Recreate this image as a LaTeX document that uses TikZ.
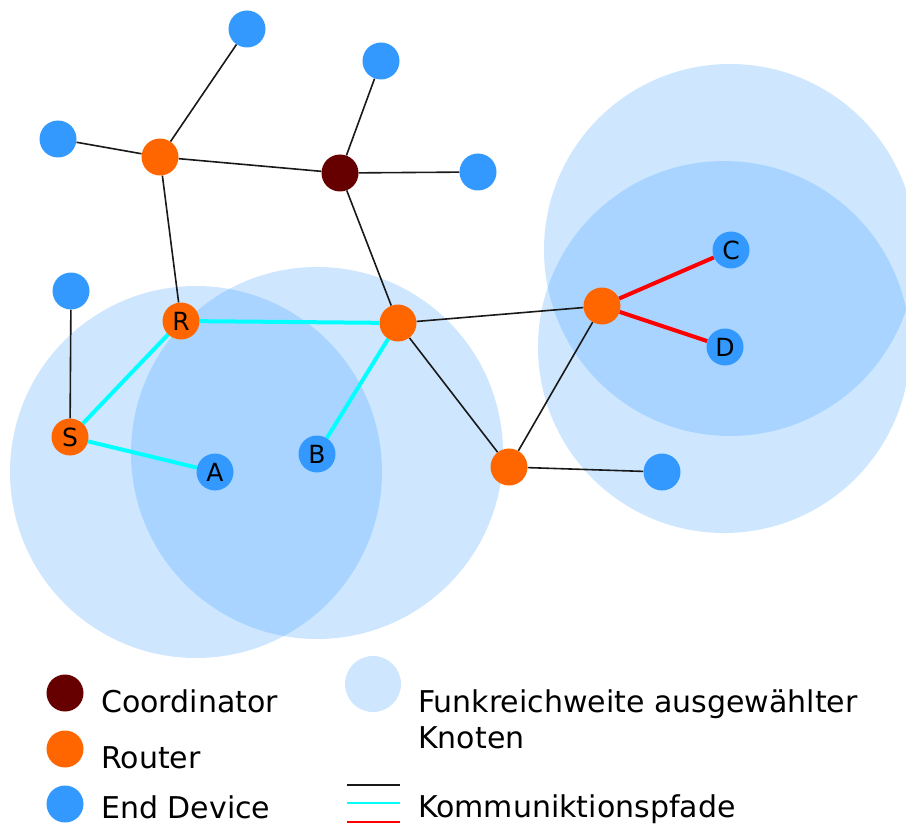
\documentclass[tikz,border=0pt]{standalone}
\usepackage{fontspec}
\setmainfont{DejaVu Sans}
\pgfdeclarelayer{circ}
\pgfdeclarelayer{edges}
\pgfsetlayers{circ,edges,main}
\definecolor{edcol}{HTML}{3399FF}
\definecolor{rtcol}{HTML}{FF6600}
\definecolor{cocol}{HTML}{660000}
\definecolor{cyancol}{RGB}{0,255,255}
\definecolor{redcol}{RGB}{255,0,0}
\definecolor{rngcol}{RGB}{51,153,255}
\begin{document}
\begin{tikzpicture}[x=1pt,y=-1pt,
  dev/.style={circle,minimum size=37pt,inner sep=0pt,font=\fontsize{25}{25}\selectfont},
  enddev/.style={dev,fill=edcol},
  router/.style={dev,fill=rtcol},
  coordnode/.style={dev,fill=cocol},
  link/.style={line width=1.6pt,black!90},
  cyanlink/.style={line width=4pt,cyancol},
  redlink/.style={line width=4pt,redcol},
  rangecirc/.style={fill=rngcol,fill opacity=0.24},
  legendtext/.style={anchor=base west,inner sep=0pt,font=\fontsize{30}{36}\selectfont}]
\useasboundingbox (0,0) rectangle (906,824);

% ranges
\begin{pgfonlayer}{circ}
\fill[rangecirc] (196,472) circle[radius=186pt];
\fill[rangecirc] (317,453) circle[radius=186pt];
\fill[rangecirc] (730,250) circle[radius=186pt];
\fill[rangecirc] (724,347) circle[radius=186pt];
\fill[rangecirc] (373,684) circle[radius=28pt];
\end{pgfonlayer}

% nodes
\node[enddev] (e1) at (247,29) {};
\node[enddev] (e2) at (381,61) {};
\node[enddev] (e3) at (58,139) {};
\node[router] (r1) at (160,157) {};
\node[coordnode] (co) at (340,173) {};
\node[enddev] (e4) at (478,172) {};
\node[enddev] (e5) at (71,291) {};
\node[router] (R) at (181,321) {R};
\node[router] (r2) at (398,323) {};
\node[router] (r3) at (602,306) {};
\node[enddev] (C) at (731,250) {C};
\node[enddev] (D) at (725,347) {D};
\node[router] (S) at (70,437) {S};
\node[enddev] (A) at (215,472) {A};
\node[enddev] (B) at (317,454) {B};
\node[router] (r4) at (509,467) {};
\node[enddev] (e6) at (662,472) {};

% edges
\begin{pgfonlayer}{edges}
\draw[link] (r1) -- (e1);
\draw[link] (r1) -- (e3);
\draw[link] (r1) -- (co);
\draw[link] (r1) -- (R);
\draw[link] (co) -- (e2);
\draw[link] (co) -- (e4);
\draw[link] (co) -- (r2);
\draw[link] (e5) -- (S);
\draw[link] (r2) -- (r3);
\draw[link] (r2) -- (r4);
\draw[link] (r3) -- (r4);
\draw[link] (r4) -- (e6);
\draw[cyanlink] (S) -- (R);
\draw[cyanlink] (S) -- (A);
\draw[cyanlink] (R) -- (r2);
\draw[cyanlink] (r2) -- (B);
\draw[redlink] (r3) -- (C);
\draw[redlink] (r3) -- (D);
\end{pgfonlayer}

% legend
\node[coordnode] (lco) at (65,693) {};
\node[router] (lrt) at (65,749) {};
\node[enddev] (led) at (65,804) {};
\node[legendtext] (tco) at (101,712) {Coordinator};
\node[legendtext] (trt) at (101,768) {Router};
\node[legendtext] (ted) at (101,818) {End Device};
\node[legendtext] (tfr) at (418,712) {Funkreichweite ausgewählter};
\node[legendtext] (tkn) at (418,748) {Knoten};
\node[legendtext] (tkp) at (418,817) {Kommuniktionspfade};
\coordinate (lk1a) at (347,785); \coordinate (lk1b) at (400,785);
\coordinate (lk2a) at (347,803); \coordinate (lk2b) at (400,803);
\coordinate (lk3a) at (347,822); \coordinate (lk3b) at (400,822);
\draw[line width=2pt,black!90] (lk1a) -- (lk1b);
\draw[line width=2pt,cyancol] (lk2a) -- (lk2b);
\draw[line width=2pt,redcol] (lk3a) -- (lk3b);
\end{tikzpicture}
\end{document}
